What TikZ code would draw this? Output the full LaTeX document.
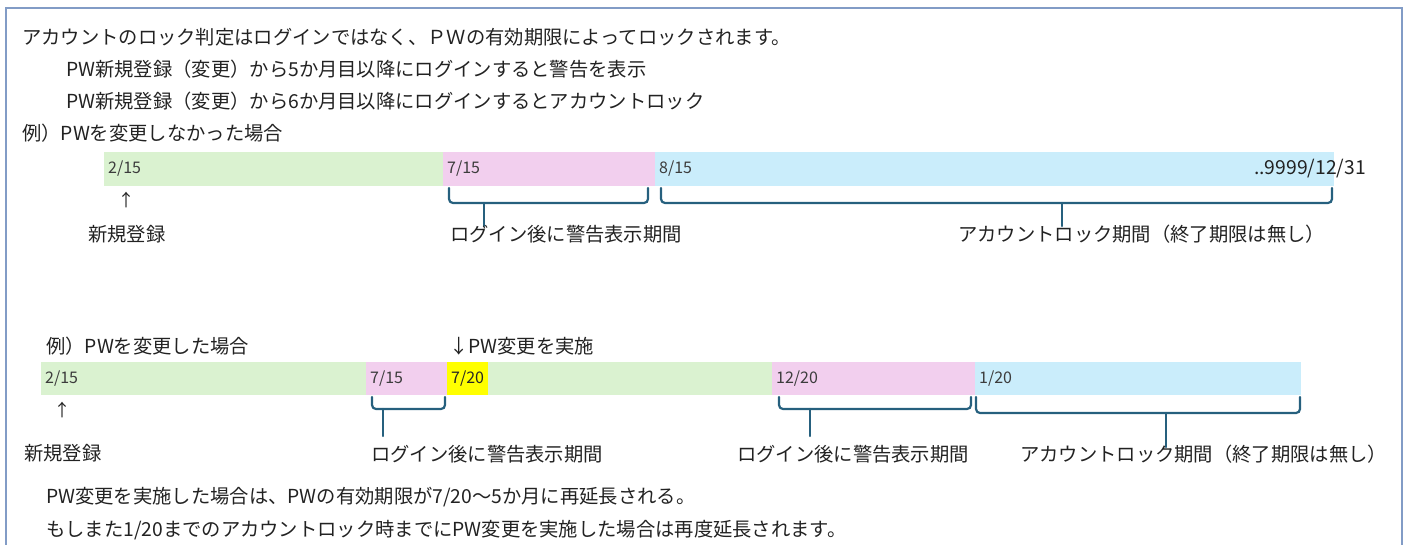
\documentclass[tikz,border=0pt]{standalone}
\usepackage{fontspec}
\setmainfont{Noto Sans CJK JP}
\definecolor{gbar}{RGB}{218,242,208}
\definecolor{pbar}{RGB}{242,207,238}
\definecolor{bbar}{RGB}{202,237,251}
\definecolor{yelfill}{rgb}{1,1,0}
\definecolor{brc}{RGB}{38,96,126}
\definecolor{frm}{RGB}{130,156,198}
\definecolor{tc}{RGB}{34,34,34}
\definecolor{dc}{RGB}{60,60,60}
\begin{document}
\begin{tikzpicture}[x=1pt,y=-1pt,
  txt/.style={anchor=west, inner sep=0, font=\fontsize{19.3}{20}\selectfont, text=tc},
  dt/.style={anchor=west, inner sep=0, font=\fontsize{16}{17}\selectfont, text=dc},
  arr/.style={inner sep=0, font=\fontsize{17}{18}\selectfont, text=tc},
  curly/.style={draw=brc, line width=2.2, rounded corners=4, line cap=round}]
\useasboundingbox (0,0) rectangle (1407,544);
% frame
\draw[frm, line width=2] (6,548) -- (6,8) -- (1402,8) -- (1402,548);
% intro text
\node[txt] (l1) at (22,37) {アカウントのロック判定はログインではなく、ＰＷの有効期限によってロックされます。};
\node[txt] (l2) at (66,69) {PW新規登録（変更）から5か月目以降にログインすると警告を表示};
\node[txt] (l3) at (66,101) {PW新規登録（変更）から6か月目以降にログインするとアカウントロック};
\node[txt] (l4) at (22,133) {例）PWを変更しなかった場合};
% bar 1
\fill[gbar] (104,152) rectangle (443,186);
\fill[pbar] (443,152) rectangle (655,186);
\fill[bbar] (655,152) rectangle (1334,186);
\node[dt] (a1) at (108,169) {2/15};
\node[dt] (a2) at (447,169) {7/15};
\node[dt] (a3) at (659,169) {8/15};
\node[txt, anchor=east] (a4) at (1366,169) {..9999/12/31};
\node[arr] (up1) at (126,200) {↑};
\node[txt] (n1) at (88,234) {新規登録};
\draw[curly] (449,188) -- (449,203) -- (648,203) -- (648,188);
\draw[curly] (484,203) -- (484,226);
\node[txt] (w1) at (450,234) {ログイン後に警告表示期間};
\draw[curly] (661,188) -- (661,203) -- (1332,203) -- (1332,188);
\draw[curly] (1062,203) -- (1062,226);
\node[txt] (k1) at (958,234) {アカウントロック期間（終了期限は無し）};
% example 2
\node[txt] (e2) at (46,346) {例）PWを変更した場合};
\node[txt] (chg) at (449,346) {↓PW変更を実施};
\fill[gbar] (41,362) rectangle (366,395);
\fill[pbar] (366,362) rectangle (447,395);
\fill[fill=yelfill] (447,362) rectangle (488,395);
\fill[gbar] (488,362) rectangle (772,395);
\fill[pbar] (772,362) rectangle (975,395);
\fill[bbar] (975,362) rectangle (1301,395);
\node[dt] (b1) at (45,379) {2/15};
\node[dt] (b2) at (370,379) {7/15};
\node[dt, text=black!85] (b3) at (451,379) {7/20};
\node[dt] (b4) at (776,379) {12/20};
\node[dt] (b5) at (979,379) {1/20};
\node[arr] (up2) at (62,410) {↑};
\node[txt] (n2) at (24,453) {新規登録};
\draw[curly] (372,397) -- (372,409) -- (445,409) -- (445,397);
\draw[curly] (383,409) -- (383,436);
\node[txt] (w2) at (371,454) {ログイン後に警告表示期間};
\draw[curly] (779,397) -- (779,409) -- (971,409) -- (971,397);
\draw[curly] (810,409) -- (810,436);
\node[txt] (w3) at (737,454) {ログイン後に警告表示期間};
\draw[curly] (976,397) -- (976,413) -- (1300,413) -- (1300,397);
\draw[curly] (1166,413) -- (1166,447);
\node[txt] (k2) at (1020,454) {アカウントロック期間（終了期限は無し）};
% bottom text
\node[txt] (t1) at (46,497) {PW変更を実施した場合は、PWの有効期限が7/20～5か月に再延長される。};
\node[txt] (t2) at (46,530) {もしまた1/20までのアカウントロック時までにPW変更を実施した場合は再度延長されます。};
\end{tikzpicture}
\end{document}
